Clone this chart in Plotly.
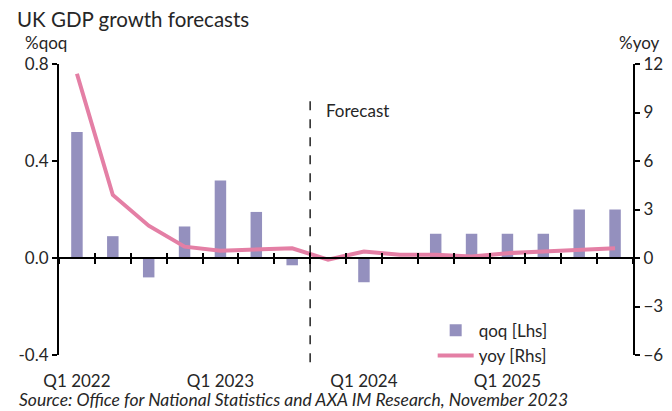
import plotly.graph_objects as go

quarters = ["Q1 2022", "Q2 2022", "Q3 2022", "Q4 2022",
            "Q1 2023", "Q2 2023", "Q3 2023", "Q4 2023",
            "Q1 2024", "Q2 2024", "Q3 2024", "Q4 2024",
            "Q1 2025", "Q2 2025", "Q3 2025", "Q4 2025"]
qoq = [0.52, 0.09, -0.08, 0.13, 0.32, 0.19, -0.03, 0.0,
       -0.1, 0.0, 0.1, 0.1, 0.1, 0.1, 0.2, 0.2]
yoy = [11.4, 3.9, 2.0, 0.7, 0.45, 0.55, 0.6, -0.1,
       0.4, 0.2, 0.2, 0.1, 0.3, 0.4, 0.5, 0.6]
tick_labels = ["Q1 2022", "Q1 2023", "Q1 2024", "Q1 2025"]
forecast_start = 6.5  # boundary between Q3 2023 and Q4 2023

FONT = "Lato"
TXT = "#262626"
BAR = "#9490BE"
LINE = "#E47FA5"

n = len(quarters)
idx = list(range(n))

fig = go.Figure()
fig.add_trace(go.Bar(x=quarters, y=qoq, name="qoq [Lhs]", marker_color=BAR,
                     marker_line_width=0, yaxis="y"))
fig.add_trace(go.Scatter(x=quarters, y=yoy, name="yoy [Rhs]", mode="lines",
                         line=dict(color=LINE, width=4), yaxis="y2"))
# invisible helpers so the zero-line axes (with crossing ticks) are drawn
for ax in ("x2", "x3"):
    fig.add_trace(go.Scatter(x=idx, y=qoq, xaxis=ax, yaxis="y", mode="markers",
                             marker=dict(opacity=0), showlegend=False,
                             hoverinfo="skip"))

zero_pos = (0 - (-0.4)) / (0.8 - (-0.4))
boundaries = [i + 0.5 for i in range(-1, n)]

fig.update_layout(
    width=672, height=411,
    margin=dict(l=51, r=47, t=56, b=64),
    paper_bgcolor="white", plot_bgcolor="white",
    font=dict(family=FONT, size=17, color=TXT),
    bargap=0.68,
    showlegend=True,
    legend=dict(x=0.651, y=0.145, xanchor="left", yanchor="top",
                font=dict(size=17, color=TXT), bgcolor="rgba(0,0,0,0)",
                tracegroupgap=0, itemwidth=36),
    xaxis=dict(type="category", range=[-0.5, n - 0.5],
               tickmode="array", tickvals=tick_labels, ticktext=tick_labels,
               ticks="", showline=False, showgrid=False, zeroline=False,
               ticklabelstandoff=14,
               tickfont=dict(size=17, color=TXT)),
    xaxis2=dict(overlaying="x", anchor="free", position=zero_pos, type="linear",
                range=[-0.5, n - 0.5], tickmode="array", tickvals=boundaries,
                showticklabels=False, ticks="outside", ticklen=5, tickwidth=2,
                tickcolor="black", showline=True, linecolor="black", linewidth=2,
                showgrid=False, zeroline=False),
    xaxis3=dict(overlaying="x", anchor="free", position=zero_pos, type="linear",
                range=[-0.5, n - 0.5], tickmode="array", tickvals=boundaries,
                showticklabels=False, ticks="inside", ticklen=5, tickwidth=2,
                tickcolor="black", showline=False, showgrid=False, zeroline=False),
    yaxis=dict(range=[-0.4, 0.8], tickvals=[-0.4, 0.0, 0.4, 0.8],
               ticktext=["-0.4", "0.0", "0.4", "0.8"],
               showline=True, linecolor="black", linewidth=2,
               ticks="outside", ticklen=5, tickwidth=2, tickcolor="black",
               showgrid=False, zeroline=False, tickfont=dict(size=17, color=TXT)),
    yaxis2=dict(range=[-6, 12], tickvals=[-6, -3, 0, 3, 6, 9, 12],
                overlaying="y", side="right", anchor="x",
                showline=True, linecolor="black", linewidth=2,
                ticks="outside", ticklen=5, tickwidth=2, tickcolor="black",
                showgrid=False, zeroline=False, tickfont=dict(size=17, color=TXT)),
    shapes=[dict(type="line", xref="x", yref="paper",
                 x0=forecast_start, x1=forecast_start, y0=-0.025, y1=0.89,
                 line=dict(color="black", width=1.3, dash="dash"))],
    annotations=[
        dict(text="UK GDP growth forecasts", xref="paper", yref="paper",
             x=-0.076, y=1.155, xanchor="left", yanchor="middle", showarrow=False,
             font=dict(size=20.5, color=TXT)),
        dict(text="%qoq", xref="paper", yref="paper", x=-0.063, y=1.075,
             xanchor="left", yanchor="middle", showarrow=False,
             font=dict(size=17, color=TXT)),
        dict(text="%yoy", xref="paper", yref="paper", x=1.05, y=1.075,
             xanchor="right", yanchor="middle", showarrow=False,
             font=dict(size=17, color=TXT)),
        dict(text="Forecast", xref="x", yref="paper", x=forecast_start + 0.38,
             y=0.84, xanchor="left", yanchor="middle", showarrow=False,
             font=dict(size=17, color=TXT)),
        dict(text="<i>Source: Office for National Statistics and AXA IM Research, November 2023</i>",
             xref="paper", yref="paper", x=-0.074, y=-0.153, xanchor="left",
             yanchor="middle", showarrow=False, font=dict(size=17.5, color=TXT)),
    ],
)

fig.write_html("out.html")
